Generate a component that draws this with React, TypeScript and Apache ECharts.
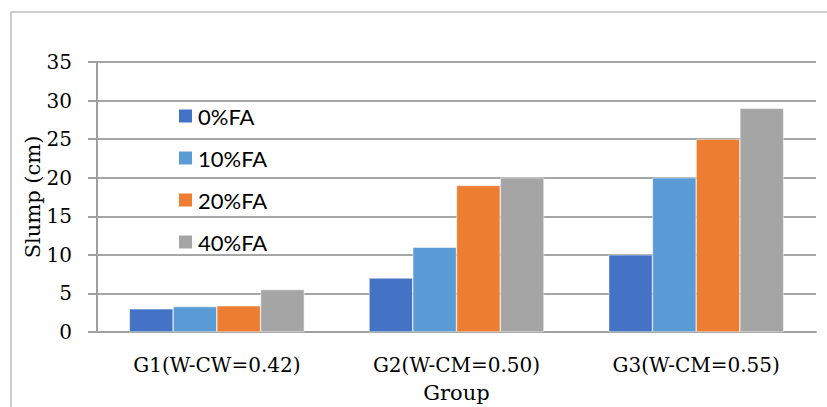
import React, { useEffect, useRef } from "react";
import * as echarts from "echarts";

const categories = ["G1(W-CW=0.42)", "G2(W-CM=0.50)", "G3(W-CM=0.55)"];
const seriesNames = ["0%FA", "10%FA", "20%FA", "40%FA"];
const fa0 = [3, 7, 10];
const fa10 = [3.3, 11, 20];
const fa20 = [3.4, 19, 25];
const fa40 = [5.5, 20, 29];
const colors = ["#4472C4", "#5B9BD5", "#ED7D31", "#A5A5A5"];

const serif = "'DejaVu Serif', 'Liberation Serif', serif";

export default function App() {
  const ref = useRef<HTMLDivElement>(null);
  useEffect(() => {
    document.body.style.margin = "0";
    const chart = echarts.init(ref.current!, null, { renderer: "svg" });
    const data = [fa0, fa10, fa20, fa40];
    chart.setOption({
      animation: false,
      backgroundColor: "#fff",
      color: colors,
      graphic: [
        {
          type: "rect",
          shape: { x: 11, y: 12, width: 900, height: 500 },
          style: { fill: "none", stroke: "#BFBFBF", lineWidth: 1.5 },
          silent: true,
        },
      ],
      grid: { left: 97, top: 62, width: 719, height: 270, outerBoundsMode: "none", containLabel: false },
      legend: {
        orient: "vertical",
        left: 177,
        top: 105,
        padding: 0,
        itemWidth: 15,
        itemHeight: 15,
        itemGap: 20,
        icon: "rect",
        textStyle: { fontFamily: "Lato, 'Noto Sans', sans-serif", fontSize: 22, lineHeight: 22, color: "#000" },
        data: seriesNames,
      },
      xAxis: {
        type: "category",
        data: categories,
        name: "Group",
        nameLocation: "middle",
        nameGap: 50,
        nameMoveOverlap: false,
        nameTextStyle: { fontFamily: serif, fontSize: 21, color: "#000" },
        axisLine: { lineStyle: { color: "#A0A0A0", width: 2 } },
        axisTick: { show: false },
        axisLabel: { fontFamily: serif, fontSize: 20, color: "#000", margin: 23 },
      },
      yAxis: {
        type: "value",
        min: 0,
        max: 35,
        interval: 5,
        name: "Slump (cm)",
        nameLocation: "middle",
        nameGap: 54,
        nameMoveOverlap: false,
        nameTextStyle: { fontFamily: serif, fontSize: 21, color: "#000" },
        axisLine: { show: true, lineStyle: { color: "#A0A0A0", width: 2 } },
        axisTick: { show: true, length: 9, lineStyle: { color: "#A0A0A0", width: 2 } },
        axisLabel: { fontFamily: serif, fontSize: 20, color: "#000", margin: 25 },
        splitLine: { lineStyle: { color: "#A6A6A6", width: 2 } },
      },
      series: seriesNames.map((n, i) => ({
        name: n,
        type: "bar",
        data: data[i],
        barGap: "0%",
        barCategoryGap: "27%",
        itemStyle: { color: colors[i], borderColor: "#fff", borderWidth: 0.5 },
      })),
    });
    return () => chart.dispose();
  }, []);
  return <div ref={ref} style={{ position: "fixed", left: 0, top: 0, width: 827, height: 407 }} />;
}
